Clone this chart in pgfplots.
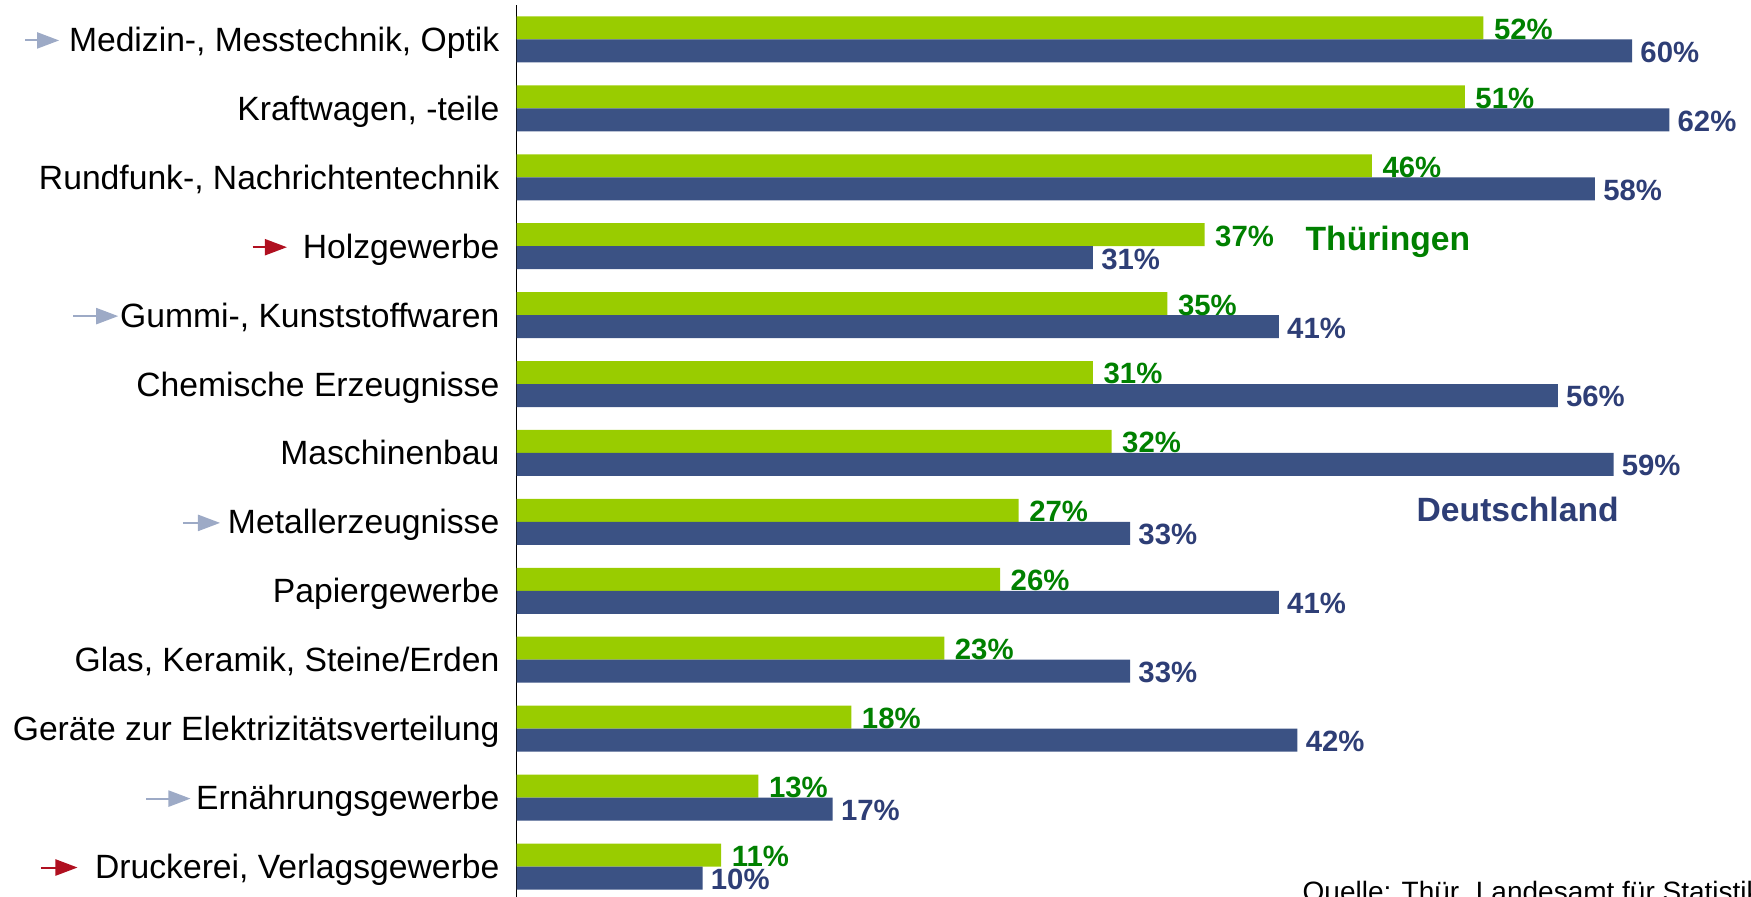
\documentclass[border=0pt]{standalone}
\usepackage{fontspec}
\setmainfont{Liberation Sans}
\usepackage{pgfplots}
\pgfplotsset{compat=1.18}

\definecolor{barGreen}{RGB}{153,204,0}
\definecolor{barBlue}{RGB}{59,82,132}
\definecolor{txtGreen}{RGB}{0,128,0}
\definecolor{txtBlue}{RGB}{46,62,118}
\definecolor{arrGray}{RGB}{157,170,198}
\definecolor{arrRed}{RGB}{176,16,32}

% small arrow in front of a label: colour, total length in pt
\newcommand\arr[2]{\tikz[baseline=-3.3pt]{%
  \draw[#1, line width=0.6pt] (0,0) -- ({#2pt-6pt},0);
  \fill[#1] ({#2pt-6.6pt},2.5pt) -- (#2pt,0) -- ({#2pt-6.6pt},-2.5pt) -- cycle;}}

\newsavebox\aMed \newsavebox\aHolz \newsavebox\aGummi
\newsavebox\aMetall \newsavebox\aErn \newsavebox\aDruck

\begin{document}%
\sbox\aMed{\arr{arrGray}{10.2}}%
\sbox\aHolz{\arr{arrRed}{10.3}}%
\sbox\aGummi{\arr{arrGray}{13.4}}%
\sbox\aMetall{\arr{arrGray}{11.1}}%
\sbox\aErn{\arr{arrGray}{13.2}}%
\sbox\aDruck{\arr{arrRed}{11}}%
\begin{tikzpicture}
  \begin{axis}
    [ at={(155pt,-1.2pt)}, anchor=south west
    , scale only axis, width=368.1pt, height=268.8pt
    , xmin=0, xmax=66, ymin=-0.5, ymax=12.5
    , axis x line=none, axis y line*=left
    , y axis line style={line width=0.45pt, black}
    , ytick={0,...,12}
    , yticklabels={
        {\usebox\aDruck\hspace{5.3pt}Druckerei, Verlagsgewerbe},
        {\usebox\aErn\hspace{1.7pt}Ernährungsgewerbe},
        {Geräte zur Elektrizitätsverteilung},
        {Glas, Keramik, Steine/Erden},
        {Papiergewerbe},
        {\usebox\aMetall\hspace{2.4pt}Metallerzeugnisse},
        {Maschinenbau},
        {Chemische Erzeugnisse},
        {\usebox\aGummi\hspace{0.6pt}Gummi-, Kunststoffwaren},
        {\usebox\aHolz\hspace{4.8pt}Holzgewerbe},
        {Rundfunk-, Nachrichtentechnik},
        {Kraftwagen, -teile},
        {\usebox\aMed\hspace{3pt}Medizin-, Messtechnik, Optik}}
    , major tick length=0pt, ytick style={draw=none}
    , yticklabel style={anchor=base east, inner sep=0pt, xshift=-5pt,
        yshift=-3.6pt, font=\fontsize{10.1}{12}\selectfont}
    , xbar, bar width=6.9pt
    , clip=false
    , point meta=x
    , /pgf/number format/assume math mode=true
    , nodes near coords={\pgfmathprintnumber{\pgfplotspointmeta}\%}
    , every node near coord/.append style={anchor=west, inner sep=0pt,
        yshift=-0.4pt, font=\fontsize{8.8}{10}\selectfont\bfseries}
    ]
    % Thüringen
    \addplot[xbar, bar shift=3.45pt, fill=barGreen, draw=none,
      every node near coord/.append style={text=txtGreen, xshift=3pt}]
      coordinates {(52,12) (51,11) (46,10) (37,9) (35,8) (31,7) (32,6)
                   (27,5) (26,4) (23,3) (18,2) (13,1) (11,0)};
    % Deutschland
    \addplot[xbar, bar shift=-3.45pt, fill=barBlue, draw=none,
      every node near coord/.append style={text=txtBlue, xshift=2.3pt}]
      coordinates {(60,12) (62,11) (58,10) (31,9) (41,8) (56,7) (59,6)
                   (33,5) (41,4) (33,3) (42,2) (17,1) (10,0)};
  \end{axis}
  \node[anchor=base west, inner sep=0pt, text=txtGreen,
    font=\fontsize{10.1}{12}\selectfont\bfseries] at (391.5pt,193.9pt) {Thüringen};
  \node[anchor=base west, inner sep=0pt, text=txtBlue,
    font=\fontsize{10.1}{12}\selectfont\bfseries] at (424.8pt,112.5pt) {Deutschland};
  \node[anchor=base west, inner sep=0pt,
    font=\fontsize{8.4}{10}\selectfont] at (390.6pt,-1.4pt) {Quelle: Thür. Landesamt für Statistik};
  \pgfresetboundingbox
  \path (0,0) rectangle (525.3pt,269.1pt);
\end{tikzpicture}%
\end{document}
